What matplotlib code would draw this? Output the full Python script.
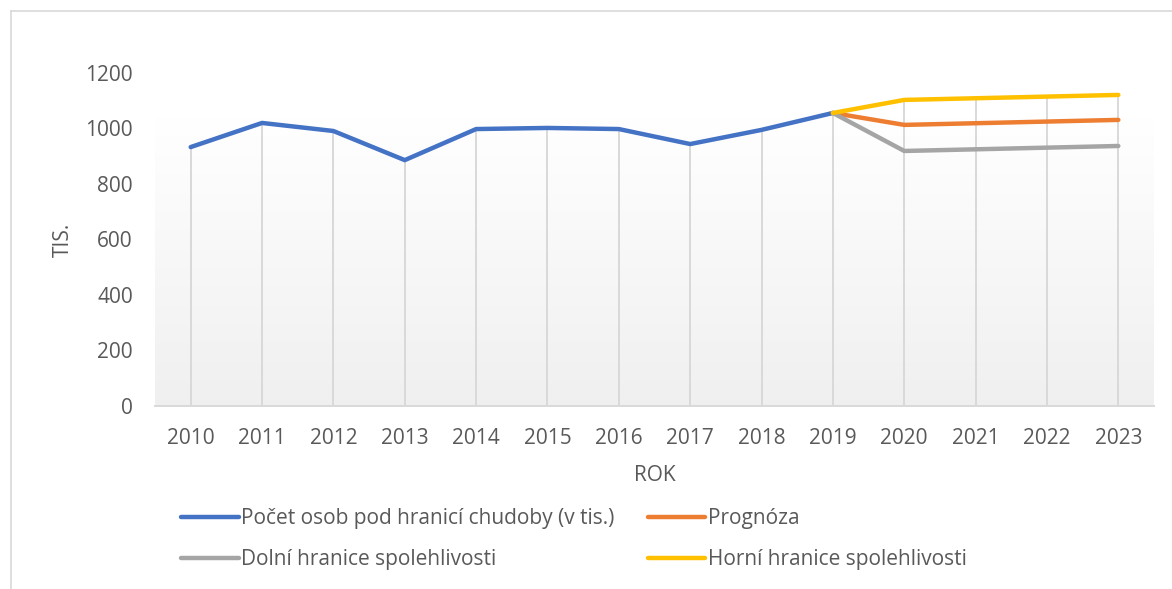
import numpy as np
import matplotlib
matplotlib.use("Agg")
import matplotlib.pyplot as plt
from matplotlib.lines import Line2D

years = ["2010", "2011", "2012", "2013", "2014", "2015", "2016",
         "2017", "2018", "2019", "2020", "2021", "2022", "2023"]
actual = [933, 1020, 991, 886, 998, 1002, 998, 944, 995, 1056]
forecast = [1056, 1013, 1019, 1025, 1031]
lower = [1056, 919, 925, 931, 937]
upper = [1056, 1103, 1109, 1115, 1121]
yticks = [0, 200, 400, 600, 800, 1000, 1200]

labels = ["Počet osob pod hranicí chudoby (v tis.)", "Prognóza",
          "Dolní hranice spolehlivosti", "Horní hranice spolehlivosti"]
colors = ["#4472C4", "#ED7D31", "#A5A5A5", "#FFC000"]

plt.rcParams['font.family'] = ['Open Sans', 'DejaVu Sans']
txt = "#595959"
fs = 15

W, H = 1172, 589
fig = plt.figure(figsize=(W / 100, H / 100), dpi=100)
ax = fig.add_axes([155 / W, 1 - 406 / H, (1154 - 155) / W, (406 - 73) / H])

x = np.arange(len(years))
n_act = len(actual)
xf = x[n_act - 1:]

ax.set_xlim(-0.5, len(years) - 0.5)
ax.set_ylim(0, 1200)

# gradient background (plot area)
grad = np.linspace(0.94, 1.0, 256).reshape(-1, 1)
ax.imshow(np.dstack([grad, grad, grad]), extent=(-0.5, len(years) - 0.5, 0, 1041),
          origin="lower", aspect="auto", zorder=0)

# drop lines: from axis to highest series value at each category
tops = list(actual[:-1]) + [max(u, f, l) for u, f, l in zip(upper, forecast, lower)]
ax.vlines(x, 0, tops, color="#D9D9D9", lw=1.4, zorder=1)

lw = 3.2
kw = dict(lw=lw, solid_capstyle="round", solid_joinstyle="round")
l0, = ax.plot(x[:n_act], actual, color=colors[0], label=labels[0], zorder=3, **kw)
l1, = ax.plot(xf, forecast, color=colors[1], label=labels[1], zorder=3, **kw)
l2, = ax.plot(xf, lower, color=colors[2], label=labels[2], zorder=3, **kw)
l3, = ax.plot(xf, upper, color=colors[3], label=labels[3], zorder=4, **kw)

for s in ["top", "right", "left"]:
    ax.spines[s].set_visible(False)
ax.spines["bottom"].set_color("#D9D9D9")
ax.spines["bottom"].set_linewidth(1.4)

ax.set_xticks(x)
ax.set_xticklabels(years)
ax.set_yticks(yticks)
ax.tick_params(axis="both", length=0, labelsize=fs, colors=txt)
ax.tick_params(axis="x", pad=15.5)
ax.tick_params(axis="y", pad=16)

ax.set_xlabel("ROK", fontsize=fs, color=txt, labelpad=12)
ax.set_ylabel("TIS.", fontsize=fs, color=txt, labelpad=8)

handles = [l0, l1, l2, l3]
# row-major order: row 1 -> l0, l1 ; row 2 -> l2, l3
order = [handles[0], handles[2], handles[1], handles[3]]
leg = fig.legend(order, [h.get_label() for h in order], loc="upper left",
                 bbox_to_anchor=(173 / W, 1 - 500 / H),
                 ncol=2, frameon=False, fontsize=fs, handlelength=2.75,
                 handletextpad=0.12, columnspacing=1.6, labelspacing=0.95,
                 borderaxespad=0)
for t in leg.get_texts():
    t.set_color(txt)
for h in leg.legend_handles:
    h.set_linewidth(3.2)

# chart border (top and left visible)
fig.add_artist(Line2D([10.5 / W, 1.0], [1 - 10.5 / H, 1 - 10.5 / H],
                      transform=fig.transFigure, color="#D9D9D9", lw=1.2))
fig.add_artist(Line2D([10.5 / W, 10.5 / W], [0, 1 - 10.5 / H],
                      transform=fig.transFigure, color="#D9D9D9", lw=1.2))

fig.savefig("out.png", dpi=100)
